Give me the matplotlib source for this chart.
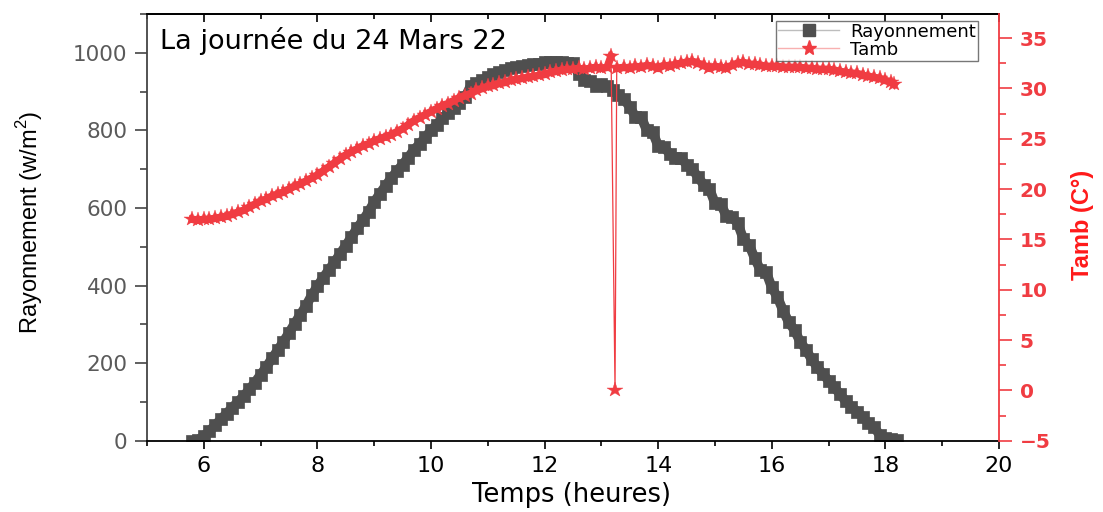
import matplotlib
matplotlib.use("Agg")
import matplotlib.pyplot as plt
from matplotlib.ticker import MultipleLocator
from matplotlib.lines import Line2D

# ---------------- data ----------------
time_ray = [5.8, 5.9, 6.0, 6.1, 6.2, 6.3, 6.4, 6.5, 6.6, 6.7, 6.8, 6.9,
            7.0, 7.1, 7.2, 7.3, 7.4, 7.5, 7.6, 7.7, 7.8, 7.9,
            8.0, 8.1, 8.2, 8.3, 8.4, 8.5, 8.6, 8.7, 8.8, 8.9,
            9.0, 9.1, 9.2, 9.3, 9.4, 9.5, 9.6, 9.7, 9.8, 9.9,
            10.0, 10.1, 10.2, 10.3, 10.4, 10.5, 10.6, 10.7, 10.8, 10.9,
            11.0, 11.1, 11.2, 11.3, 11.4, 11.5, 11.6, 11.7, 11.8, 11.9,
            12.0, 12.1, 12.2, 12.3, 12.4, 12.5, 12.6, 12.7, 12.8, 12.9,
            13.0, 13.1, 13.2, 13.3, 13.4, 13.5, 13.6, 13.7, 13.8, 13.9,
            14.0, 14.1, 14.2, 14.3, 14.4, 14.5, 14.6, 14.7, 14.8, 14.9,
            15.0, 15.1, 15.2, 15.3, 15.4, 15.5, 15.6, 15.7, 15.8, 15.9,
            16.0, 16.1, 16.2, 16.3, 16.4, 16.5, 16.6, 16.7, 16.8, 16.9,
            17.0, 17.1, 17.2, 17.3, 17.4, 17.5, 17.6, 17.7, 17.8, 17.9,
            18.0, 18.1, 18.2]
rayonnement = [0, 2, 12, 25, 40, 55, 70, 85, 100, 115, 132, 150,
               170, 190, 212, 233, 255, 278, 302, 325, 348, 375,
               398, 420, 440, 460, 482, 503, 525, 548, 568, 590,
               615, 637, 657, 677, 695, 712, 730, 750, 765, 782,
               800, 815, 832, 845, 858, 870, 885, 915, 922, 930,
               937, 945, 950, 955, 960, 963, 966, 968, 970, 972,
               975, 976, 975, 975, 974, 973, 945, 930, 928, 915,
               920, 915, 905, 890, 880, 860, 835, 834, 800, 796,
               760, 757, 740, 730, 728, 712, 700, 680, 660, 650,
               612, 610, 580, 577, 560, 520, 505, 470, 440, 435,
               395, 370, 335, 305, 285, 255, 235, 210, 190, 172,
               155, 138, 120, 102, 88, 75, 62, 45, 35, 15,
               8, 5, 3]

time_temp = [5.8, 5.9, 6.0, 6.1, 6.2, 6.3, 6.4, 6.5, 6.6, 6.7, 6.8, 6.9,
             7.0, 7.1, 7.2, 7.3, 7.4, 7.5, 7.6, 7.7, 7.8, 7.9,
             8.0, 8.1, 8.2, 8.3, 8.4, 8.5, 8.6, 8.7, 8.8, 8.9,
             9.0, 9.1, 9.2, 9.3, 9.4, 9.5, 9.6, 9.7, 9.8, 9.9,
             10.0, 10.1, 10.2, 10.3, 10.4, 10.5, 10.6, 10.7, 10.8, 10.9,
             11.0, 11.1, 11.2, 11.3, 11.4, 11.5, 11.6, 11.7, 11.8, 11.9,
             12.0, 12.1, 12.2, 12.3, 12.4, 12.5, 12.6, 12.7, 12.8, 12.9,
             13.0, 13.1, 13.17, 13.24, 13.27, 13.4, 13.5, 13.6, 13.7, 13.8, 13.9,
             14.0, 14.1, 14.2, 14.3, 14.4, 14.5, 14.6, 14.7, 14.8, 14.9,
             15.0, 15.1, 15.2, 15.3, 15.4, 15.5, 15.6, 15.7, 15.8, 15.9,
             16.0, 16.1, 16.2, 16.3, 16.4, 16.5, 16.6, 16.7, 16.8, 16.9,
             17.0, 17.1, 17.2, 17.3, 17.4, 17.5, 17.6, 17.7, 17.8, 17.9,
             18.0, 18.1, 18.15]
tamb = [17.0, 16.9, 17.0, 17.0, 17.1, 17.2, 17.3, 17.5, 17.7, 17.9, 18.2, 18.5,
        18.8, 19.0, 19.3, 19.5, 19.7, 20.0, 20.3, 20.5, 20.8, 21.1,
        21.4, 21.8, 22.2, 22.6, 23.0, 23.4, 23.7, 24.0, 24.3, 24.5,
        24.8, 25.0, 25.2, 25.4, 25.7, 26.0, 26.4, 26.8, 27.1, 27.4,
        27.7, 28.0, 28.3, 28.5, 28.8, 29.1, 29.3, 29.5, 29.8, 30.0,
        30.2, 30.3, 30.5, 30.6, 30.8, 30.9, 31.0, 31.1, 31.2, 31.3,
        31.4, 31.6, 31.7, 31.8, 31.9, 31.9, 32.0, 31.9, 32.0, 32.1,
        32.0, 32.1, 33.2, 0.0, 32.0, 32.1, 32.0, 32.2, 32.1, 32.3, 32.2,
        32.0, 32.3, 32.2, 32.4, 32.5, 32.6, 32.7, 32.5, 32.3, 32.0,
        32.2, 32.1, 32.0, 32.3, 32.5, 32.6, 32.4, 32.4, 32.3, 32.2,
        32.2, 32.2, 32.1, 32.1, 32.1, 32.1, 32.0, 32.0, 31.9, 31.9,
        31.9, 31.8, 31.7, 31.6, 31.5, 31.5, 31.3, 31.2, 31.1, 31.0,
        30.8, 30.6, 30.4]
drop_index = 75  # index of the 0 °C reading in tamb

title_text = "La journée du 24 Mars 22"
xlabel_text = "Temps (heures)"
ylabel_left = "Rayonnement (w/m$^2$)"
ylabel_right = "Tamb (C°)"
legend_labels = ["Rayonnement", "Tamb"]

# ---------------- style ----------------
GRAY = "#4f4f4f"
RED = "#f03c42"
arial = ["Liberation Sans", "DejaVu Sans"]

plt.rcParams["font.family"] = ["DejaVu Sans"]
plt.rcParams["mathtext.fontset"] = "custom"
plt.rcParams["mathtext.rm"] = "Liberation Sans"

fig = plt.figure(figsize=(11.03, 5.12), dpi=100)
ax = fig.add_axes([147 / 1103, 1 - 440.7 / 512, (999 - 147) / 1103, (440.7 - 14) / 512])
ax2 = ax.twinx()

# Rayonnement: dense marker band
ax.plot(time_ray, rayonnement, color=GRAY, lw=7, solid_capstyle="butt",
        solid_joinstyle="miter", zorder=1)
ax.plot(time_ray, rayonnement, color=GRAY, lw=0.8, marker="s", ms=9,
        mfc=GRAY, mec=GRAY, mew=0.5, zorder=2)

# Tamb: band excluding the drop reading, thin connecting line through all
ax2.plot(time_temp[:drop_index], tamb[:drop_index], color=RED, lw=5.5, zorder=2)
ax2.plot(time_temp[drop_index + 1:], tamb[drop_index + 1:], color=RED, lw=5.5, zorder=2)
ax2.plot(time_temp, tamb, color=RED, lw=0.9, marker="*", ms=11.5,
         mfc=RED, mec=RED, mew=0.3, zorder=3)

ax.set_xlim(5, 20)
ax.set_ylim(0, 1100)
ax2.set_ylim(-5, 37.4)

ax.xaxis.set_major_locator(MultipleLocator(2))
ax.xaxis.set_minor_locator(MultipleLocator(1))
ax.yaxis.set_minor_locator(MultipleLocator(100))
ax2.yaxis.set_major_locator(MultipleLocator(5))
ax2.yaxis.set_minor_locator(MultipleLocator(2.5))
ax.set_yticks([0, 200, 400, 600, 800, 1000])

for s in ["top", "bottom"]:
    ax.spines[s].set_color("black")
    ax.spines[s].set_linewidth(1.3)
ax.spines["left"].set_color("#444444")
ax.spines["left"].set_linewidth(1.3)
ax.spines["right"].set_visible(False)
for s in ["left", "top", "bottom"]:
    ax2.spines[s].set_visible(False)
ax2.spines["right"].set_color(RED)
ax2.spines["right"].set_linewidth(1.3)

ax.tick_params(axis="x", which="major", direction="out", length=6, width=1.2,
               colors="black", labelsize=16, pad=5)
ax.tick_params(axis="x", which="minor", direction="out", length=3.5, width=1.2, colors="black")
ax.tick_params(axis="y", which="major", direction="out", length=9, width=1.2,
               colors="#444444", labelcolor="#5a5a5a", labelsize=15.5, pad=5)
ax.tick_params(axis="y", which="minor", direction="out", length=5, width=1.2, colors="#444444")
ax2.tick_params(axis="y", which="major", direction="out", length=9, width=1.2,
                colors=RED, labelsize=14.5, pad=6)
ax2.tick_params(axis="y", which="minor", direction="out", length=5, width=1.2, colors=RED)
for lab in ax2.get_yticklabels():
    lab.set_fontweight("bold")

# top axis with inward ticks
sec = ax.secondary_xaxis("top")
sec.xaxis.set_major_locator(MultipleLocator(2))
sec.xaxis.set_minor_locator(MultipleLocator(1))
sec.tick_params(axis="x", which="major", direction="in", length=6, width=1.2, labeltop=False)
sec.tick_params(axis="x", which="minor", direction="in", length=3.5, width=1.2)
sec.spines["top"].set_linewidth(1.3)

fig.text(572 / 1103, 1 - 495 / 512, xlabel_text, ha="center", va="center",
         fontsize=18.5, color="black")
fig.text(30 / 1103, 1 - 222 / 512, ylabel_left, rotation=90, ha="center", va="center",
         fontsize=17, family=arial, color="black")
fig.text(1083 / 1103, 1 - 225 / 512, ylabel_right, rotation=90, ha="center", va="center",
         fontsize=17, family=arial, fontweight="bold", color="#ff1a1a")

fig.text(160 / 1103, 1 - 41 / 512, title_text, ha="left", va="center", fontsize=19.5, color="black")

handles = [Line2D([], [], color="#bdbdbd", lw=1, marker="s", ms=8, mfc=GRAY, mec=GRAY),
           Line2D([], [], color="#f8b0b0", lw=1, marker="*", ms=11, mfc=RED, mec=RED)]
leg = ax2.legend(handles, legend_labels, loc="upper left",
                 bbox_to_anchor=(776 / 1103, 1 - 21 / 512), bbox_transform=fig.transFigure,
                 fontsize=13, frameon=True, fancybox=False, edgecolor="#555555",
                 borderpad=0.1, labelspacing=0.0, handlelength=3.4, handletextpad=0.6,
                 borderaxespad=0)
leg.get_frame().set_linewidth(1.0)

fig.savefig("out.png", dpi=100)
